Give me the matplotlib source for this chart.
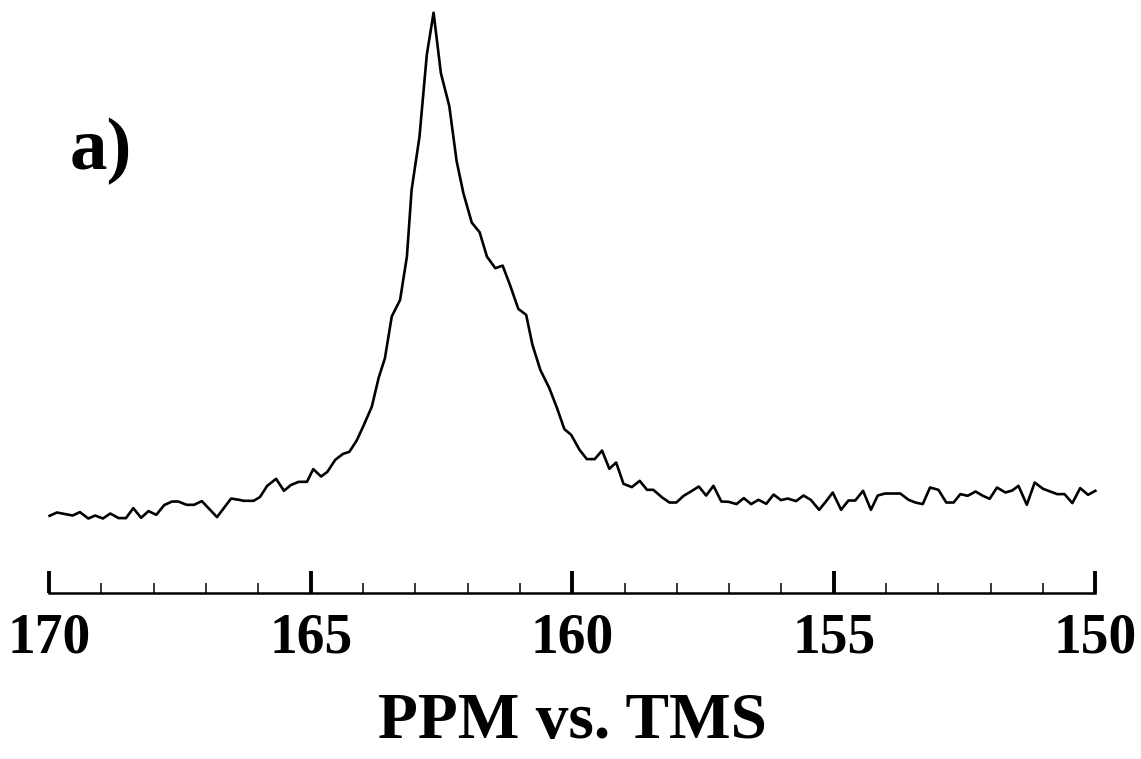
import matplotlib.pyplot as plt
from matplotlib.ticker import MultipleLocator

# Espectro (ppm vs. TMS, intensidade em unidades arbitrarias)
ppm = [169.99, 169.85, 169.69, 169.55, 169.41, 169.25, 169.12, 168.97, 168.83, 168.67,
       168.53, 168.39, 168.24, 168.10, 167.95, 167.80, 167.65, 167.53, 167.37, 167.23,
       167.08, 166.79, 166.52, 166.37, 166.28, 166.09, 165.97, 165.83, 165.66, 165.51,
       165.38, 165.23, 165.07, 164.95, 164.80, 164.68, 164.53, 164.38, 164.26, 164.12,
       163.99, 163.83, 163.70, 163.58, 163.45, 163.29, 163.16, 163.07, 162.92, 162.78,
       162.65, 162.51, 162.35, 162.21, 162.08, 161.92, 161.77, 161.63, 161.47, 161.33,
       161.19, 161.03, 160.88, 160.76, 160.61, 160.44, 160.29, 160.15, 160.02, 159.86,
       159.72, 159.57, 159.43, 159.29, 159.16, 159.02, 158.86, 158.71, 158.57, 158.45,
       158.28, 158.14, 158.01, 157.87, 157.71, 157.58, 157.44, 157.30, 157.15, 157.01,
       156.86, 156.72, 156.58, 156.44, 156.29, 156.15, 156.01, 155.88, 155.72, 155.58,
       155.44, 155.28, 155.15, 155.02, 154.86, 154.72, 154.59, 154.44, 154.29, 154.16,
       154.02, 153.86, 153.73, 153.57, 153.44, 153.30, 153.16, 153.00, 152.85, 152.71,
       152.58, 152.44, 152.29, 152.15, 152.02, 151.88, 151.72, 151.59, 151.47, 151.31,
       151.16, 151.00, 150.86, 150.73, 150.59, 150.44, 150.29, 150.14, 150.00]

intensidade = [74.0, 77.3, 75.7, 74.3, 77.7, 71.3, 74.3, 71.3, 76.3, 71.7,
               71.7, 81.7, 72.0, 78.7, 75.0, 84.7, 88.3, 88.3, 85.0, 85.0,
               88.7, 72.7, 91.3, 90.0, 89.0, 89.0, 92.7, 104.0, 111.0, 99.0,
               104.7, 108.0, 108.0, 120.7, 113.3, 118.0, 130.0, 136.0, 138.0, 149.3,
               164.0, 183.3, 212.0, 231.7, 273.3, 290.0, 333.3, 400.0, 453.0, 535.0,
               577.3, 516.7, 484.0, 429.0, 396.7, 367.3, 357.7, 333.3, 321.7, 324.3,
               305.0, 281.0, 275.0, 245.0, 220.0, 202.0, 181.7, 160.7, 155.0, 140.0,
               130.7, 130.7, 139.3, 121.0, 127.3, 106.0, 102.7, 109.0, 100.0, 100.0,
               92.3, 87.3, 87.3, 94.0, 99.0, 103.3, 94.3, 104.0, 88.3, 88.0,
               85.7, 91.7, 85.7, 90.0, 86.0, 95.3, 89.7, 91.3, 88.7, 94.3,
               90.0, 80.0, 88.3, 97.3, 80.0, 89.3, 89.3, 99.0, 80.0, 94.3,
               96.3, 96.3, 96.3, 90.0, 87.3, 85.7, 102.3, 100.0, 87.3, 87.3,
               95.7, 94.0, 98.3, 94.0, 91.0, 102.3, 97.3, 99.3, 104.0, 85.0,
               107.3, 101.0, 98.3, 95.7, 95.7, 86.7, 101.7, 95.0, 99.0]

ticks_maiores = [170, 165, 160, 155, 150]

fonte = {'family': 'Liberation Serif', 'weight': 'bold'}

fig = plt.figure(figsize=(11.41, 7.59), dpi=100)
ax = fig.add_axes([0.043, 0.219, 0.917, 0.781])

ax.plot(ppm, intensidade, color='black', linewidth=1.9, clip_on=False)

ax.set_xlim(170, 150)
ax.set_ylim(-3, 590)

# so o eixo de baixo, com marcas para dentro
for lado in ['left', 'top', 'right']:
    ax.spines[lado].set_visible(False)
ax.spines['bottom'].set_linewidth(1.8)
ax.set_yticks([])

ax.set_xticks(ticks_maiores)
ax.xaxis.set_minor_locator(MultipleLocator(1))
ax.tick_params(axis='x', which='major', direction='in', length=16, width=2.8, pad=14)
ax.tick_params(axis='x', which='minor', direction='in', length=7, width=1.1)
ax.set_xticklabels([str(t) for t in ticks_maiores], fontdict=fonte, fontsize=40)

ax.set_xlabel('PPM vs. TMS', fontdict=fonte, fontsize=47, labelpad=20)

ax.text(0.02, 0.745, 'a)', transform=ax.transAxes, fontdict=fonte, fontsize=54,
        ha='left', va='center')

fig.savefig('out.png', dpi=100)
